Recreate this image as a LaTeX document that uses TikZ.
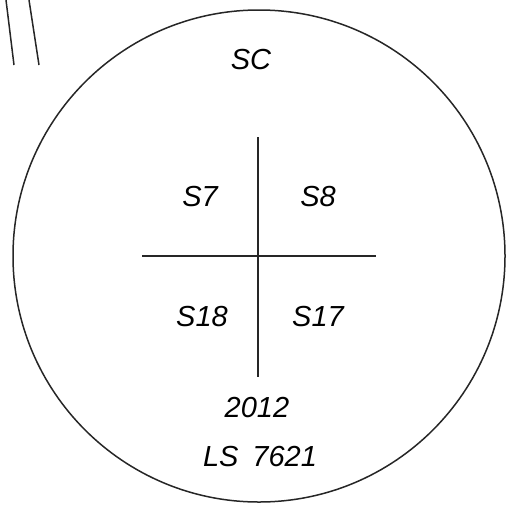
\documentclass[tikz,border=0pt]{standalone}
\usepackage{fontspec}
\setmainfont{Liberation Sans}
\usetikzlibrary{positioning}

\begin{document}
\begin{tikzpicture}[x=1pt, y=-1pt,
    mark label/.style={font=\fontsize{29}{29}\selectfont\itshape, inner sep=0pt},
    outline/.style={line width=1.5pt, black!85}]
    \useasboundingbox (0,0) rectangle (513,506);

    % lines at the corner
    \coordinate (a1) at (6,0);
    \coordinate (a2) at (14,65);
    \coordinate (b1) at (29,0);
    \coordinate (b2) at (39,65);
    \draw[outline] (a1) -- (a2);
    \draw[outline] (b1) -- (b2);

    \node[circle, draw, outline, minimum size=492pt, inner sep=0pt] (disc) at (259,256) {};

    \coordinate (top) at (258,137);
    \coordinate (bottom) at (258,377);
    \coordinate (left) at (142,256);
    \coordinate (right) at (376,256);
    \draw[outline] (top) -- (bottom);
    \draw[outline, line width=1.9pt] (left) -- (right);

    \node[mark label] (sc) at (251,60) {SC};
    \node[mark label] (s7) at (200,197) {S7};
    \node[mark label] (s8) at (318,197) {S8};
    \node[mark label] (s18) at (202,317) {S18};
    \node[mark label] (s17) at (318,317) {S17};
    \node[mark label] (year) at (257,408) {2012};
    \node[mark label] (code) at (260,457) {LS\hspace{14pt}7621};
\end{tikzpicture}
\end{document}
